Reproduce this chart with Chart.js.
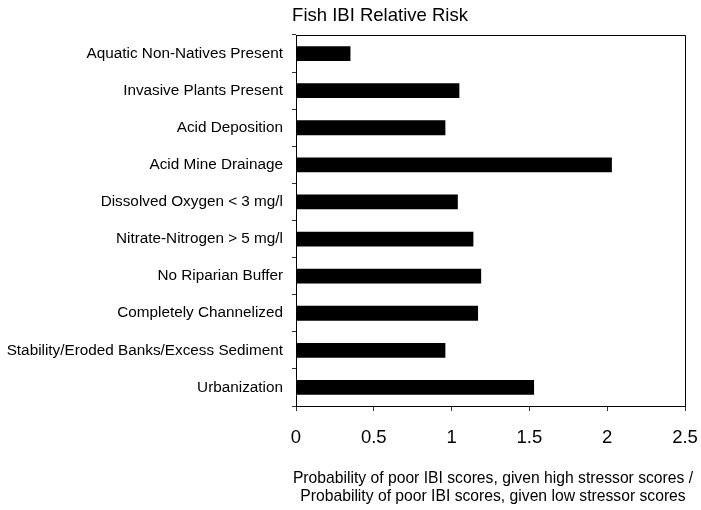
<!DOCTYPE html>
<html>
<head>
<meta charset="utf-8">
<script src="https://cdn.jsdelivr.net/npm/chart.js@4"></script>
<style>
  html, body { margin: 0; padding: 0; background: #fff; }
  #wrap { position: relative; width: 701px; height: 510px; }
</style>
</head>
<body>
<div id="wrap"><canvas id="c" width="701" height="510"></canvas></div>
<script>
const chartTitle = "Fish IBI Relative Risk";
const categories = [
  "Aquatic Non-Natives Present",
  "Invasive Plants Present",
  "Acid Deposition",
  "Acid Mine Drainage",
  "Dissolved Oxygen < 3 mg/l",
  "Nitrate-Nitrogen > 5 mg/l",
  "No Riparian Buffer",
  "Completely Channelized",
  "Stability/Eroded Banks/Excess Sediment",
  "Urbanization"
];
const relativeRisk = [0.35, 1.05, 0.96, 2.03, 1.04, 1.14, 1.19, 1.17, 0.96, 1.53];
const xTitleLines = [
  "Probability of poor IBI scores, given high stressor scores /",
  "Probability of poor IBI scores, given low stressor scores"
];
const xMin = 0, xMax = 2.5, xStep = 0.5;

const FONT = "'Liberation Sans', Arial, sans-serif";

const textPlugin = {
  id: 'frameAndTexts',
  afterDraw(chart) {
    const {ctx, chartArea: a} = chart;
    ctx.save();
    // top and right frame lines
    ctx.strokeStyle = '#000';
    ctx.lineWidth = 1;
    ctx.beginPath();
    ctx.moveTo(a.left, a.top + 0.5);
    ctx.lineTo(a.right + 0.5, a.top + 0.5);
    ctx.lineTo(a.right + 0.5, a.bottom);
    ctx.stroke();
    // chart title
    ctx.fillStyle = '#000';
    ctx.font = "18.5px " + FONT;
    ctx.textAlign = 'center';
    ctx.textBaseline = 'middle';
    ctx.fillText(chartTitle, 380, 15.5);
    // x axis title (two lines, centred under the plot)
    ctx.font = "15.7px " + FONT;
    const cx = (a.left + a.right) / 2 + 2.5;
    xTitleLines.forEach((line, i) => {
      ctx.fillText(line, cx, 478.5 + i * 18.5);
    });
    ctx.restore();
  }
};

new Chart(document.getElementById('c'), {
  type: 'bar',
  data: {
    labels: categories,
    datasets: [{
      data: relativeRisk,
      backgroundColor: '#000',
      borderWidth: 0,
      barPercentage: 0.40,
      categoryPercentage: 1.0
    }]
  },
  options: {
    indexAxis: 'y',
    responsive: false,
    animation: false,
    devicePixelRatio: 1,
    layout: { padding: { left: 0, right: 16, top: 35, bottom: 0 } },
    plugins: {
      legend: { display: false },
      title: { display: false },
      tooltip: { enabled: false }
    },
    scales: {
      x: {
        type: 'linear',
        min: xMin, max: xMax,
        afterBuildTicks(scale) {
          const t = [];
          for (let i = 0; i <= Math.round((xMax - xMin) / xStep); i++) t.push({ value: +(xMin + i * xStep).toFixed(2) });
          scale.ticks = t;
        },
        afterFit(scale) { scale.height = 104; scale.paddingLeft = 0; scale.paddingRight = 0; },
        grid: { drawOnChartArea: false, drawTicks: true, tickLength: 5, color: '#333', tickWidth: 1 },
        border: { display: true, color: '#000', width: 1 },
        ticks: {
          color: '#000',
          font: { family: FONT, size: 18.5 },
          padding: 16,
          maxRotation: 0,
          callback: (v) => String(v)
        },
        title: { display: false }
      },
      y: {
        type: 'category',
        afterFit(scale) { scale.width = 296; scale.paddingTop = 0; scale.paddingBottom = 0; },
        grid: { drawOnChartArea: false, drawTicks: true, tickLength: 4, offset: true, color: '#333' },
        border: { display: true, color: '#000', width: 1 },
        ticks: {
          color: '#000',
          font: { family: FONT, size: 15.3 },
          padding: 9,
          autoSkip: false
        }
      }
    }
  },
  plugins: [textPlugin]
});
</script>
</body>
</html>
